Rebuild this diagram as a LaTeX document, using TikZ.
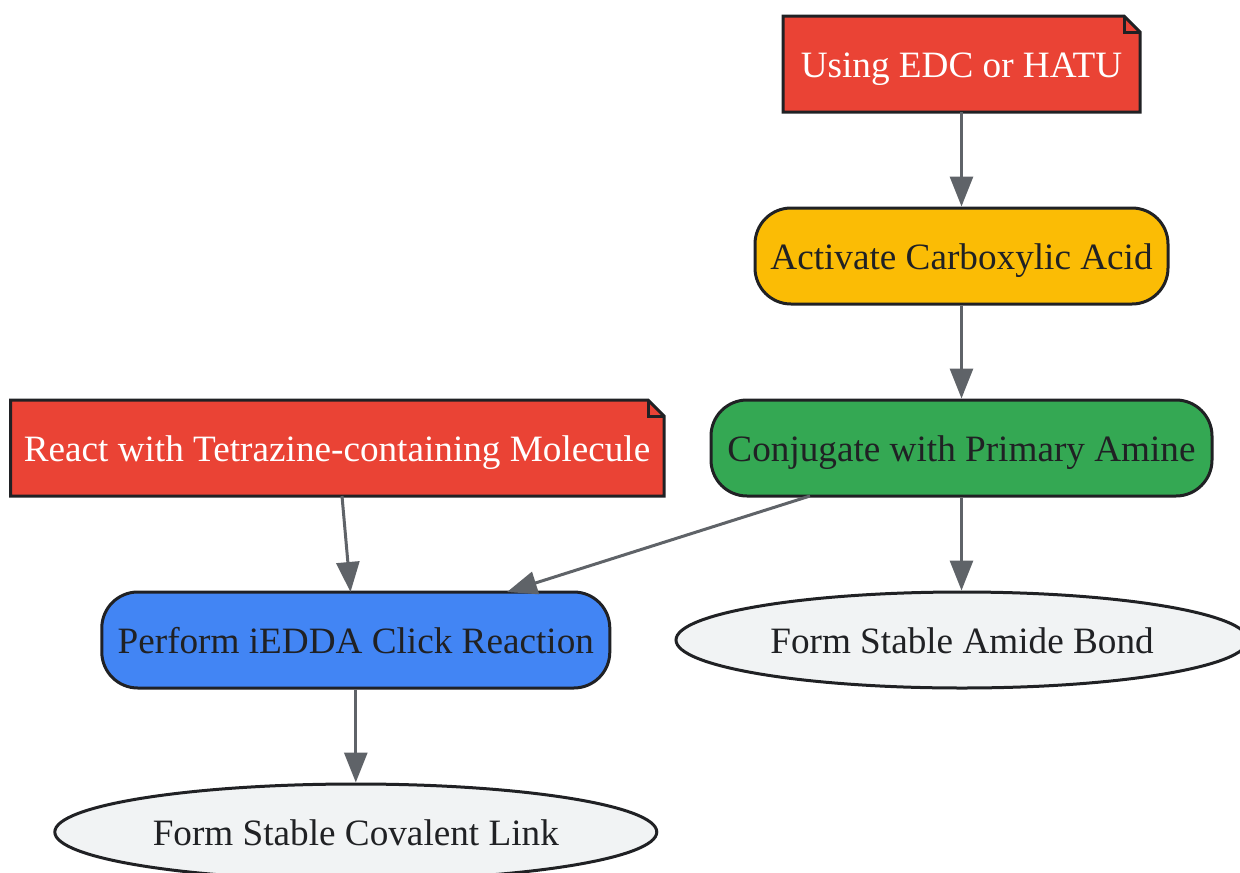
\documentclass[tikz,border=0pt]{standalone}
\usepackage{fontspec}
\setmainfont{Liberation Serif}
\usetikzlibrary{arrows.meta,shapes.geometric}
\definecolor{inkc}{HTML}{202124}
\definecolor{edgec}{HTML}{5F6368}
\definecolor{redc}{HTML}{EA4335}
\definecolor{yelc}{HTML}{FBBC05}
\definecolor{grnc}{HTML}{34A853}
\definecolor{bluc}{HTML}{4285F4}
\definecolor{grayc}{HTML}{F1F3F4}
\tikzset{
 x=1pt,y=-1pt,
 base/.style={font=\fontsize{37.2}{44}\selectfont,text=inkc,inner sep=0pt,text height=31pt,text depth=4pt},
 notelabel/.style={base,text=white,minimum height=96pt},
 noteedge/.style={draw=inkc,line width=3pt,line join=miter,fill=redc},
 foldedge/.style={draw=inkc,line width=3pt,line join=miter},
 roundbox/.style={base,draw=inkc,line width=3pt,rounded corners=36pt,minimum height=96pt},
 oval/.style={base,ellipse,draw=inkc,line width=3pt,fill=grayc,minimum height=96pt},
 link/.style={draw=edgec,line width=3pt,-{Triangle[length=30pt,width=23pt,fill=edgec]},shorten >=0pt}
}
\begin{document}
\begin{tikzpicture}
\useasboundingbox (0,0) rectangle (1240,873);
\clip (0,0) rectangle (1240,873);
% notes
\draw[noteedge] (783,16) -- (1124,16) -- (1140,32) -- (1140,112) -- (783,112) -- cycle;
\draw[foldedge] (1124,16) -- (1124,32) -- (1140,32);
\node[notelabel,minimum width=357pt] (edc) at (961.5,64) {Using EDC or HATU};
\draw[noteedge] (10.5,400) -- (648,400) -- (664,416) -- (664,496) -- (10.5,496) -- cycle;
\draw[foldedge] (648,400) -- (648,416) -- (664,416);
\node[notelabel,minimum width=654pt] (tet) at (337,448) {React with Tetrazine-containing Molecule};
% process boxes
\node[roundbox,fill=yelc,minimum width=413pt] (act) at (961.5,256) {Activate Carboxylic Acid};
\node[roundbox,fill=grnc,minimum width=501pt] (con) at (961.5,448) {Conjugate with Primary Amine};
\node[roundbox,fill=bluc,minimum width=508pt] (per) at (355.8,640) {Perform iEDDA Click Reaction};
% terminals
\node[oval,minimum width=572pt] (ami) at (962,640) {Form Stable Amide Bond};
\node[oval,minimum width=602pt] (cov) at (355.8,832) {Form Stable Covalent Link};
% free ends on node borders
\coordinate (tetout) at (342,496);
\coordinate (perin) at (350.5,592);
\coordinate (conout) at (810,496);
\coordinate (perin2) at (507,592);
% connectors
\draw[link] (edc.south) -- (act.north);
\draw[link] (act.south) -- (con.north);
\draw[link] (con.south) -- (ami.north -| con.south);
\draw[link] (tetout) -- (perin);
\draw[link] (conout) -- (perin2);
\draw[link] (per.south) -- (cov.north);
\end{tikzpicture}
\end{document}
